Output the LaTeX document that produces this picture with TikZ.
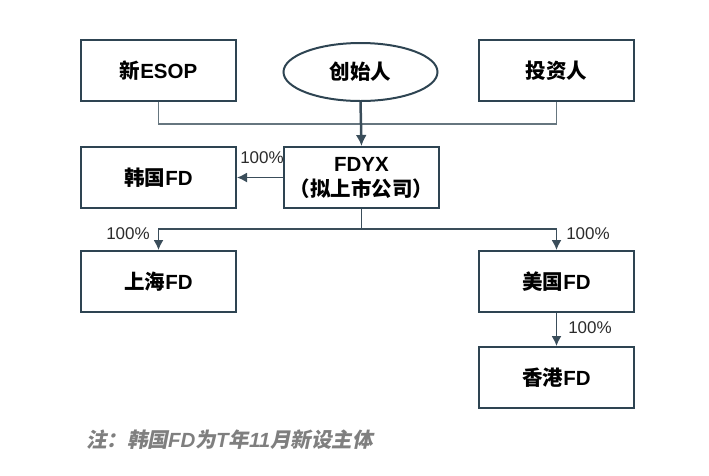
\documentclass[tikz,border=0pt]{standalone}
\usepackage{fontspec}
\setmainfont{Liberation Sans}
\newfontfamily\cjk{Noto Sans CJK SC}
\newfontfamily\cjkslant{Noto Sans CJK SC}[FakeSlant=0.2]
\usetikzlibrary{shapes.geometric, arrows.meta}
\definecolor{boxline}{HTML}{2E4452}
\definecolor{feedline}{HTML}{66767F}
\definecolor{arrline}{HTML}{3A4D5A}
\definecolor{pcttext}{HTML}{2B2B2B}
\definecolor{notegray}{HTML}{7F7F7F}
\tikzset{
  entity/.style={draw=boxline, line width=2pt, minimum width=155pt, minimum height=61pt, inner sep=0pt, align=center, font=\fontsize{20.5}{25}\selectfont\bfseries},
  owner/.style={draw=boxline, line width=2pt, ellipse, minimum width=154pt, minimum height=58pt, inner sep=0pt, font=\fontsize{20.5}{25}\selectfont\bfseries},
  feed/.style={draw=feedline, line width=1.5pt},
  link/.style={draw=arrline, line width=1.5pt, -{Latex[length=10pt,width=10pt]}},
  pct/.style={text=pcttext, font=\fontsize{17}{20}\selectfont, inner sep=0pt}
}
\begin{document}
\begin{tikzpicture}[x=1pt, y=-1pt]
  \useasboundingbox (0,0) rectangle (709,475);

  % Shareholders
  \node[entity] (esop) at (158.5,70.5) {{\cjk 新}ESOP};
  \node[owner] (founder) at (360.5,72) {\cjk 创始人};
  \node[entity] (investor) at (556.5,70.5) {\cjk 投资人};

  % Companies
  \node[entity] (fdyx) at (361.5,177.5) {FDYX\\{\cjk （拟上市公司）}};
  \node[entity] (kr) at (158.5,177.5) {{\cjk 韩国}FD};
  \node[entity] (sh) at (158.5,281.5) {{\cjk 上海}FD};
  \node[entity] (us) at (556.5,281.5) {{\cjk 美国}FD};
  \node[entity] (hk) at (556.5,377.5) {{\cjk 香港}FD};

  % Bus points
  \coordinate (bus) at (361.5,124);
  \coordinate (split) at (361.5,229);

  % Shareholders into FDYX
  \draw[feed] (esop.south) |- (bus) -| (investor.south);
  \draw[arrline, line width=2.5pt, -{Latex[length=11pt,width=11pt]}] (founder.south) -- (fdyx.north);

  % Subsidiaries
  \draw[link] (fdyx.west) -- (kr.east);
  \draw[arrline, line width=1.5pt] (fdyx.south) -- (split);
  \draw[link] (split) -| (sh.north);
  \draw[link] (split) -| (us.north);
  \draw[link] (us.south) -- (hk.north);

  % Shares
  \node[pct] (pkr) at (262,158) {100\%};
  \node[pct] (psh) at (128,234) {100\%};
  \node[pct] (pus) at (588,234) {100\%};
  \node[pct] (phk) at (590,328) {100\%};

  % Note
  \node[anchor=west, inner sep=0pt, text=notegray, font=\fontsize{20.5}{22}\selectfont\bfseries\itshape] (note) at (86,440) {{\cjkslant 注：韩国}FD{\cjkslant 为}T{\cjkslant 年}11{\cjkslant 月新设主体}};
\end{tikzpicture}
\end{document}
